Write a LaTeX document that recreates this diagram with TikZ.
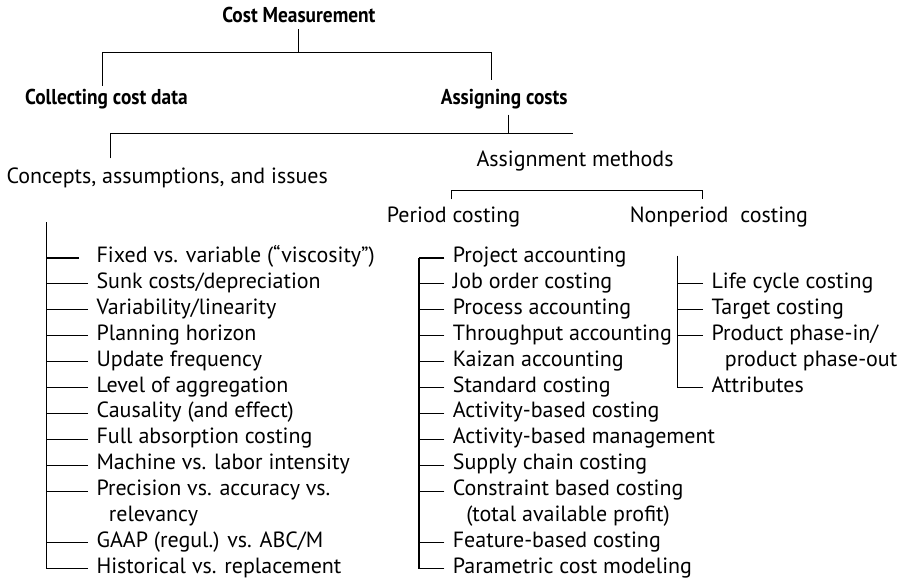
\documentclass[tikz,border=0pt]{standalone}
\usepackage{fontspec}
\setmainfont{PT Sans}
\newfontfamily\headfont{PT Sans}[FakeStretch=0.9]
\usetikzlibrary{calc}

\tikzset{
  head/.style={font=\headfont\bfseries\fontsize{21.5}{26}\selectfont, anchor=base,
    inner xsep=0pt, inner ysep=5.6pt, text height=12pt},
  grp/.style={font=\fontsize{22}{26}\selectfont, anchor=base west, inner sep=0pt},
  item/.style={font=\fontsize{22}{26}\selectfont, anchor=base west,
    inner xsep=8pt, inner ysep=0pt, text height=9pt, text depth=0pt},
}

\begin{document}
\begin{tikzpicture}[x=1pt,y=-1pt,line width=1.1pt]
\useasboundingbox (0,0) rectangle (904,582);
% first two levels
\node[head] (cost) at (298.9,22.7) {Cost Measurement};
\node[head] (collect) at (106.4,104) {Collecting cost data};
\node[head] (assign) at (504.2,104) {Assigning costs};
\coordinate (b1l) at (102.7,52.7);
\coordinate (b1r) at (491.7,52.7);
\draw (cost.south) -- (cost.south |- b1l);
\draw (b1l |- collect.north) -- (b1l) -- (b1r) -- ($(b1r |- assign.north)+(0,-6)$);

\node[grp] (concepts) at (6,183.3) {Concepts, assumptions, and issues};
\node[grp] (methods) at (476,166) {Assignment methods};
\coordinate (b2l) at (110.7,133.3);
\coordinate (b2m) at (508.3,133.3);
\coordinate (b2r) at (573.3,133.3);
\draw (b2m |- assign.south) -- (b2m);
\draw (b2l) ++(0,25) -- (b2l) -- (b2r);

\node[grp] (period) at (386.4,222.7) {Period costing};
\node[grp] (nonper) at (629.3,222.7) {Nonperiod\ \ costing};
\coordinate (b3l) at (451.7,190.7);
\coordinate (b3r) at (702.3,190.7);
\draw (b3l) ++(0,8.6) -- (b3l) -- (b3r) -- ++(0,8.6);

% concepts list
\coordinate (cbar) at (46.7,222);
\node[item] (c0) at (88,262.5) {Fixed vs. variable (“viscosity”)};
\draw ([xshift=-9pt]c0.west) -- (c0.west -| cbar);
\foreach \r/\t in {1/{Sunk costs/depreciation}, 2/{Variability/linearity},
  3/{Planning horizon}, 4/{Update frequency}, 5/{Level of aggregation},
  6/{Causality (and effect)}, 7/{Full absorption costing},
  8/{Machine vs. labor intensity}, 9/{Precision vs. accuracy vs.},
  11/{GAAP (regul.) vs. ABC/M}, 12/{Historical vs. replacement}}{
  \node[item] (c\r) at (88,262.5+25.9*\r) {\t};
  \draw (c\r.west) -- (c\r.west -| cbar);
}
\node[item] (c10) at (100.3,262.5+259) {relevancy};
\draw (cbar) -- (cbar |- c12.west);

% period costing list
\coordinate (pbar) at (419,0);
\foreach \r/\t in {0/{Project accounting}, 1/{Job order costing},
  2/{Process accounting}, 3/{Throughput accounting}, 4/{Kaizan accounting},
  5/{Standard costing}, 6/{Activity-based costing},
  7/{Activity-based management}, 8/{Supply chain costing},
  9/{Constraint based costing}, 11/{Feature-based costing},
  12/{Parametric cost modeling}}{
  \node[item] (p\r) at (444.3,262.5+25.9*\r) {\t};
  \draw (p\r.west) -- (p\r.west -| pbar);
}
\node[item] (p10) at (457.7,262.5+259) {(total available profit)};
\draw (p0.west -| pbar) -- (p12.west -| pbar);

% nonperiod costing list
\coordinate (nbar) at (677.7,255.7);
\foreach \r/\t in {1/{Life cycle costing}, 2/{Target costing},
  3/{Product phase-in/}, 5/{Attributes}}{
  \node[item] (n\r) at (703,262.5+25.9*\r) {\t};
  \draw (n\r.west) -- (n\r.west -| nbar);
}
\node[item] (n4) at (716.3,262.5+103.6) {product phase-out};
\draw (nbar) -- (nbar |- n5.west);
\end{tikzpicture}
\end{document}
